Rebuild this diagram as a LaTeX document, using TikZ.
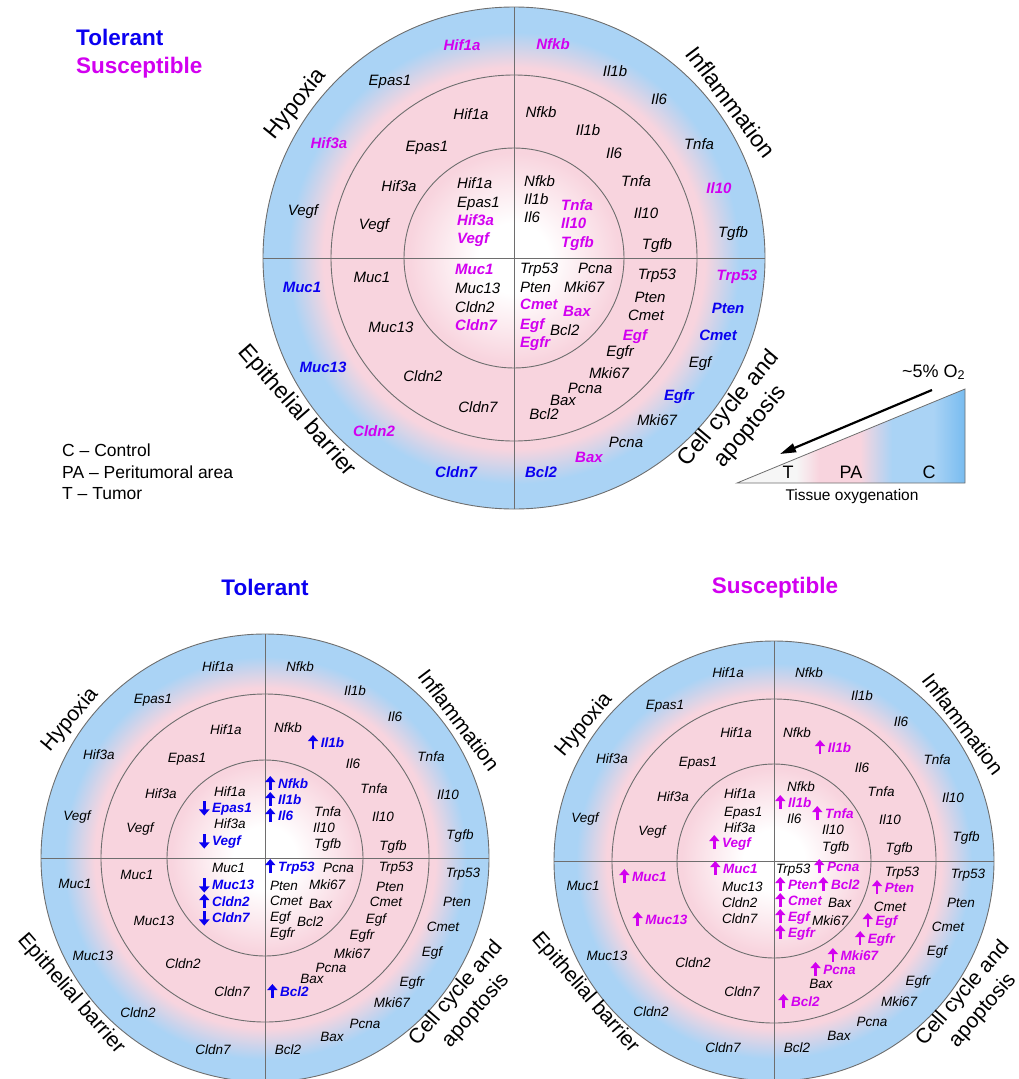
\documentclass[tikz,border=0pt]{standalone}
\usepackage{fontspec}
\setmainfont{Liberation Sans}
\usetikzlibrary{arrows.meta}

\definecolor{ringpink}{RGB}{248,212,222}
\definecolor{ringblue}{RGB}{170,211,245}
\definecolor{oxyblue}{RGB}{120,188,240}
\definecolor{oxywhite}{RGB}{246,246,246}
\definecolor{tolblue}{RGB}{10,0,240}
\definecolor{susmag}{RGB}{210,0,240}
\definecolor{ringgray}{RGB}{110,110,110}

\pgfdeclareradialshading{rings}{\pgfpoint{0bp}{0bp}}{color(0bp)=(white); color(3.5bp)=(white); color(10.5bp)=(ringpink); color(19bp)=(ringpink); color(22.5bp)=(ringblue); color(25bp)=(ringblue); color(50bp)=(ringblue)}
\pgfdeclarehorizontalshading{oxy}{50bp}{color(0bp)=(oxywhite); color(38bp)=(oxywhite); color(43bp)=(ringpink); color(52bp)=(ringpink); color(59bp)=(ringblue); color(68bp)=(ringblue); color(75bp)=(oxyblue); color(100bp)=(oxyblue)}

\newcommand\uparr{\makebox[0.95em][l]{\tikz[baseline=0pt]\draw[line width=0.19em,-{Triangle[length=0.45em,width=0.75em]}] (0.35em,-0.1em) -- (0.35em,0.95em);}}
\newcommand\dnarr{\makebox[0.95em][l]{\tikz[baseline=0pt]\draw[line width=0.19em,-{Triangle[length=0.45em,width=0.75em]}] (0.35em,0.85em) -- (0.35em,-0.2em);}}
% centre x, centre y, outer, middle, inner radius
\newcommand\ringchart[5]{%
  \shade[shading=rings] (#1,#2) circle[radius=#3pt];
  \draw[ringline] (#1,#2) circle[radius=#3pt] (#1,#2) circle[radius=#4pt] (#1,#2) circle[radius=#5pt];
  \draw[ringline] (#1-#3,#2) -- (#1+#3,#2) (#1,#2-#3) -- (#1,#2+#3);
}

\tikzset{
  ringline/.style={draw=ringgray, line width=0.9pt},
  gk/.style={inner sep=0pt, text height=\gh, text depth=0pt, font=\fontsize{\gs}{\gs}\selectfont\itshape},
  gb/.style={gk, text=tolblue, font=\fontsize{\gs}{\gs}\selectfont\bfseries\itshape},
  gm/.style={gb, text=susmag},
  sector/.style={inner sep=0pt, align=center, font=\fontsize{23}{28}\selectfont},
  sectorsm/.style={inner sep=0pt, align=center, font=\fontsize{21}{26}\selectfont},
  title/.style={inner sep=0pt, text height=16pt, text depth=0pt, font=\fontsize{22.5}{27}\selectfont\bfseries},
  legend/.style={inner sep=0pt, font=\fontsize{17.5}{21}\selectfont},
}

\begin{document}
\begin{tikzpicture}[x=1pt, y=-1pt]
\useasboundingbox (0,0) rectangle (1019,1079);
\clip (0,0) rectangle (1019,1079);

% top chart
\ringchart{514}{258}{251}{183}{110}
\def\gs{15}\def\gh{10.8pt}
\foreach \x/\y/\s/\g [count=\i] in {462/45/gm/Hif1a, 390/80/gk/Epas1, 329/143/gm/Hif3a, 303/210/gk/Vegf,
  553/44/gm/Nfkb, 615/71/gk/Il1b, 659/99/gk/Il6, 699/144/gk/Tnfa, 719/188/gm/Il10, 733/232/gk/Tgfb,
  302/287/gb/Muc1, 323/367/gb/Muc13, 374/431/gm/Cldn2, 456/472/gb/Cldn7,
  737/275/gm/Trp53, 728/308/gb/Pten, 718/335/gb/Cmet, 700/362/gk/Egf, 679/395/gb/Egfr,
  657/420/gk/Mki67, 626/442/gk/Pcna, 589/457/gm/Bax, 541/472/gb/Bcl2}
  {\node[\s] (ta\i) at (\x,\y) {\g};}
\foreach \x/\y/\s/\g [count=\i] in {471/114/gk/Hif1a, 427/146/gk/Epas1, 399/186/gk/Hif3a, 374/224/gk/Vegf,
  541/112/gk/Nfkb, 588/130/gk/Il1b, 614/153/gk/Il6, 636/181/gk/Tnfa, 646/213/gk/Il10, 657/244/gk/Tgfb,
  372/277/gk/Muc1, 391/327/gk/Muc13, 423/376/gk/Cldn2, 478/407/gk/Cldn7,
  657/274/gk/Trp53, 650/297/gk/Pten, 646/315/gk/Cmet, 635/335/gm/Egf, 620/351/gk/Egfr,
  609/373/gk/Mki67, 585/388/gk/Pcna, 563/400/gk/Bax, 544/414/gk/Bcl2}
  {\node[\s] (tb\i) at (\x,\y) {\g};}
\foreach \x/\y/\s/\g [count=\i] in {457/183/gk/Hif1a, 457/202/gk/Epas1, 457/220/gm/Hif3a, 457/238/gm/Vegf,
  524/181/gk/Nfkb, 524/199/gk/Il1b, 524/217/gk/Il6, 561/205/gm/Tnfa, 561/223/gm/Il10, 561/242/gm/Tgfb,
  455/269/gm/Muc1, 455/288/gk/Muc13, 455/307/gk/Cldn2, 455/325/gm/Cldn7,
  520/268/gk/Trp53, 578/268/gk/Pcna, 520/287/gk/Pten, 564/287/gk/Mki67, 520/304/gm/Cmet,
  563/311/gm/Bax, 520/324/gm/Egf, 550/330/gk/Bcl2, 520/342/gm/Egfr}
  {\node[\s, anchor=west] (tc\i) at (\x,\y) {\g};}
\node[sector, rotate=51] (hypT) at (296,104) {Hypoxia};
\node[sector, rotate=-53] (infT) at (731,102) {Inflammation};
\node[sector, rotate=-49] (epiT) at (297,411) {Epithelial barrier};
\node[sector, rotate=50] (cellT) at (740,418) {Cell cycle and\\apoptosis};

\node[title, text=tolblue, anchor=base west, text height=] (tolkey) at (76,45) {Tolerant};
\node[title, text=susmag, anchor=base west, text height=] (suskey) at (76,73) {Susceptible};
\node[legend, anchor=base west] (keyC) at (62,456) {C – Control};
\node[legend, anchor=base west] (keyPA) at (62,478) {PA – Peritumoral area};
\node[legend, anchor=base west] (keyT) at (62,499) {T – Tumor};

% oxygen wedge
\coordinate (wl) at (737,483);
\coordinate (wr) at (965,483);
\coordinate (wt) at (965,389);
\shade[shading=oxy] (wl) -- (wr) -- (wt) -- cycle;
\draw[ringgray, line width=0.8pt] (wl) -- (wr) -- (wt) -- cycle;
\node[legend, anchor=base, font=\fontsize{18}{21}\selectfont] (wT) at (788,478) {T};
\node[legend, anchor=base, font=\fontsize{18}{21}\selectfont] (wPA) at (851,478) {PA};
\node[legend, anchor=base, font=\fontsize{18}{21}\selectfont] (wC) at (929,478) {C};
\node[legend, anchor=base, font=\fontsize{15.5}{18}\selectfont] (wlab) at (852,500) {Tissue oxygenation};
\node[legend, anchor=base west, font=\fontsize{18}{21}\selectfont] (oxlab) at (902,377) {\textasciitilde5\% O\textsubscript{2}};
\coordinate (arrA) at (932,390);
\coordinate (arrB) at (780,454);
\draw[line width=2.2pt, -{Triangle[length=16pt,width=9pt]}] (arrA) -- (arrB);

% tolerant chart
\ringchart{265}{858}{224}{164}{98}
\def\gs{13.5}\def\gh{9.7pt}
\node[title, text=tolblue] (tolT) at (265,587) {Tolerant};
\foreach \x/\y/\s/\g [count=\i] in {218/667/gk/Hif1a, 153/699/gk/Epas1, 99/755/gk/Hif3a, 77/816/gk/Vegf,
  300/667/gk/Nfkb, 355/691/gk/Il1b, 395/717/gk/Il6, 431/757/gk/Tnfa, 448/795/gk/Il10, 460/835/gk/Tgfb,
  75/884/gk/Muc1, 93/956/gk/Muc13, 138/1013/gk/Cldn2, 213/1050/gk/Cldn7,
  463/873/gk/Trp53, 457/902/gk/Pten, 443/927/gk/Cmet, 432/952/gk/Egf, 412/982/gk/Egfr,
  392/1003/gk/Mki67, 365/1024/gk/Pcna, 332/1037/gk/Bax, 288/1050/gk/Bcl2}
  {\node[\s] (la\i) at (\x,\y) {\g};}
\foreach \x/\y/\s/\g [count=\i] in {226/730/gk/Hif1a, 187/758/gk/Epas1, 161/794/gk/Hif3a, 140/828/gk/Vegf,
  288/728/gk/Nfkb, 326/743/gb/{\uparr Il1b}, 353/764/gk/Il6, 374/789/gk/Tnfa, 383/817/gk/Il10, 393/846/gk/Tgfb,
  137/875/gk/Muc1, 154/921/gk/Muc13, 183/964/gk/Cldn2, 232/992/gk/Cldn7,
  396/867/gk/Trp53, 390/887/gk/Pten, 386/902/gk/Cmet, 376/919/gk/Egf, 362/935/gk/Egfr,
  352/954/gk/Mki67, 331/968/gk/Pcna, 312/979/gk/Bax, 288/992/gb/{\uparr Bcl2}}
  {\node[\s] (lb\i) at (\x,\y) {\g};}
\foreach \x/\y/\s/\g [count=\i] in {214/792/gk/Hif1a, 199/808/gb/{\dnarr Epas1}, 214/824/gk/Hif3a, 199/841/gb/{\dnarr Vegf},
  265/784/gb/{\uparr Nfkb}, 265/800/gb/{\uparr Il1b}, 265/816/gb/{\uparr Il6}, 314/812/gk/Tnfa, 313/828/gk/Il10, 314/844/gk/Tgfb,
  212/868/gk/Muc1, 199/885/gb/{\dnarr Muc13}, 199/902/gb/{\uparr Cldn2}, 199/918/gb/{\dnarr Cldn7},
  265/867/gb/{\uparr Trp53}, 323/868/gk/Pcna, 270/886/gk/Pten, 309/885/gk/Mki67, 270/901/gk/Cmet,
  309/904/gk/Bax, 270/917/gk/Egf, 297/922/gk/Bcl2, 270/933/gk/Egfr}
  {\node[\s, anchor=west] (lc\i) at (\x,\y) {\g};}
\node[sectorsm, rotate=50] (hypL) at (70,720) {Hypoxia};
\node[sectorsm, rotate=-53] (infL) at (459,720) {Inflammation};
\node[sectorsm, rotate=-49] (epiL) at (71,994) {Epithelial barrier};
\node[sectorsm, rotate=49] (cellL) at (466,1002) {Cell cycle and\\apoptosis};

% susceptible chart
\ringchart{774}{861}{220}{162}{97}
\node[title, text=susmag] (susT) at (775,585) {Susceptible};
\foreach \x/\y/\s/\g [count=\i] in {728/673/gk/Hif1a, 665/705/gk/Epas1, 612/759/gk/Hif3a, 585/818/gk/Vegf,
  809/673/gk/Nfkb, 862/696/gk/Il1b, 901/722/gk/Il6, 937/760/gk/Tnfa, 953/798/gk/Il10, 966/837/gk/Tgfb,
  583/886/gk/Muc1, 607/956/gk/Muc13, 651/1012/gk/Cldn2, 723/1048/gk/Cldn7,
  968/874/gk/Trp53, 961/903/gk/Pten, 948/927/gk/Cmet, 937/951/gk/Egf, 918/981/gk/Egfr,
  899/1002/gk/Mki67, 872/1022/gk/Pcna, 839/1036/gk/Bax, 797/1048/gk/Bcl2}
  {\node[\s] (ra\i) at (\x,\y) {\g};}
\foreach \x/\y/\s/\g [count=\i] in {736/733/gk/Hif1a, 698/762/gk/Epas1, 673/797/gk/Hif3a, 652/831/gk/Vegf,
  797/733/gk/Nfkb, 833/748/gm/{\uparr Il1b}, 862/768/gk/Il6, 881/792/gk/Tnfa, 890/820/gk/Il10, 899/848/gk/Tgfb,
  643/877/gm/{\uparr Muc1}, 660/920/gm/{\uparr Muc13}, 693/963/gk/Cldn2, 742/992/gk/Cldn7,
  902/872/gk/Trp53, 893/888/gm/{\uparr Pten}, 890/907/gk/Cmet, 880/921/gm/{\uparr Egf}, 875/939/gm/{\uparr Egfr},
  853/956/gm/{\uparr Mki67}, 833/970/gm/{\uparr Pcna}, 821/984/gk/Bax, 799/1002/gm/{\uparr Bcl2}}
  {\node[\s] (rb\i) at (\x,\y) {\g};}
\foreach \x/\y/\s/\g [count=\i] in {724/794/gk/Hif1a, 724/812/gk/Epas1, 724/828/gk/Hif3a, 709/843/gm/{\uparr Vegf},
  787/787/gk/Nfkb, 775/803/gm/{\uparr Il1b}, 787/819/gk/Il6, 812/814/gm/{\uparr Tnfa}, 822/830/gk/Il10, 822/847/gk/Tgfb,
  710/869/gm/{\uparr Muc1}, 722/887/gk/Muc13, 722/903/gk/Cldn2, 722/919/gk/Cldn7,
  776/869/gk/Trp53, 814/867/gm/{\uparr Pcna}, 775/885/gm/{\uparr Pten}, 818/885/gm/{\uparr Bcl2}, 775/901/gm/{\uparr Cmet},
  828/903/gk/Bax, 775/917/gm/{\uparr Egf}, 812/921/gk/Mki67, 775/933/gm/{\uparr Egfr}}
  {\node[\s, anchor=west] (rc\i) at (\x,\y) {\g};}
\node[sectorsm, rotate=50] (hypR) at (584,725) {Hypoxia};
\node[sectorsm, rotate=-53] (infR) at (963,724) {Inflammation};
\node[sectorsm, rotate=-49] (epiR) at (585,993) {Epithelial barrier};
\node[sectorsm, rotate=49] (cellR) at (973,1002) {Cell cycle and\\apoptosis};
\end{tikzpicture}
\end{document}
